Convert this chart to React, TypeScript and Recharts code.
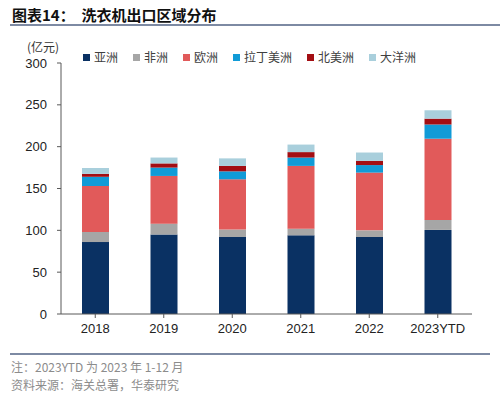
import React from "react"
import { Bar, BarChart, XAxis, YAxis } from "recharts"

const years = ["2018", "2019", "2020", "2021", "2022", "2023YTD"]
const asia = [86, 95, 92, 94, 92, 100.5]
const africa = [12, 13, 9, 8, 8, 12]
const europe = [55, 57, 60, 75, 69, 97]
const latam = [11, 10, 9.5, 10, 9, 17]
const northAm = [3.5, 5, 6.5, 6.5, 5, 7]
const oceania = [7, 7, 9, 9, 10, 10]
const yTicks = [0, 50, 100, 150, 200, 250, 300]

const series = [
  { key: "asia", name: "亚洲", color: "#0a3163" },
  { key: "africa", name: "非洲", color: "#a6a6a6" },
  { key: "europe", name: "欧洲", color: "#e15a5a" },
  { key: "latam", name: "拉丁美洲", color: "#119bd7" },
  { key: "northAm", name: "北美洲", color: "#a30e13" },
  { key: "oceania", name: "大洋洲", color: "#a9cfdc" },
]

const data = years.map((y, i) => ({
  name: y,
  asia: asia[i],
  africa: africa[i],
  europe: europe[i],
  latam: latam[i],
  northAm: northAm[i],
  oceania: oceania[i],
}))

const cjk = '"Noto Sans CJK SC", "Noto Sans", sans-serif'
const latin = '"Liberation Sans", Arial, sans-serif'

function LegendRow() {
  return (
    <div style={{ position: "absolute", left: 83, top: 50, display: "flex", alignItems: "center", fontFamily: cjk, fontSize: 12, color: "#404040" }}>
      {series.map(s => (
        <div key={s.key} style={{ display: "flex", alignItems: "center", marginRight: 15 }}>
          <span style={{ width: 7, height: 7, background: s.color, display: "inline-block", marginRight: 4 }} />
          <span style={{ lineHeight: "14px" }}>{s.name}</span>
        </div>
      ))}
    </div>
  )
}

export default function App() {
  return (
    <div style={{ position: "absolute", left: 0, top: 0, width: 500, height: 398, background: "#fff", overflow: "hidden" }}>
      <div style={{ position: "absolute", left: 12, top: 4, fontFamily: cjk, fontWeight: 700, fontSize: 15, color: "#111", whiteSpace: "pre" }}>
        {"图表14：  洗衣机出口区域分布"}
      </div>
      <div style={{ position: "absolute", left: 10, top: 24, width: 490, height: 2, background: "#7d8aa3" }} />
      <div style={{ position: "absolute", left: 27, top: 38, fontFamily: cjk, fontSize: 12, color: "#333" }}>(亿元)</div>

      <div style={{ position: "absolute", left: 0, top: 0 }}>
        <BarChart width={500} height={345} data={data} margin={{ top: 63, right: 28, bottom: 6, left: 0 }} barSize={27}>
          <XAxis
            dataKey="name"
            height={25}
            tickSize={4}
            tickMargin={6}
            stroke="#595959"
            tick={{ fontSize: 13, fill: "#222", fontFamily: latin }}
            interval={0}
          />
          <YAxis
            width={61}
            domain={[0, 300]}
            ticks={yTicks}
            interval={0}
            tickSize={4}
            tickMargin={10}
            stroke="#595959"
            tick={{ fontSize: 13, fill: "#222", fontFamily: latin }}
          />
          {series.map(s => (
            <Bar key={s.key} dataKey={s.key} name={s.name} stackId="a" fill={s.color} isAnimationActive={false} />
          ))}
        </BarChart>
      </div>
      <LegendRow />

      <div style={{ position: "absolute", left: 10, top: 353, width: 480, height: 2, background: "#7d8aa3" }} />
      <div style={{ position: "absolute", left: 11, top: 358, fontFamily: cjk, fontSize: 12, color: "#8c8c8c", lineHeight: "18px" }}>
        <div>注：2023YTD 为 2023 年 1-12 月</div>
        <div>资料来源：海关总署，华泰研究</div>
      </div>
    </div>
  )
}
